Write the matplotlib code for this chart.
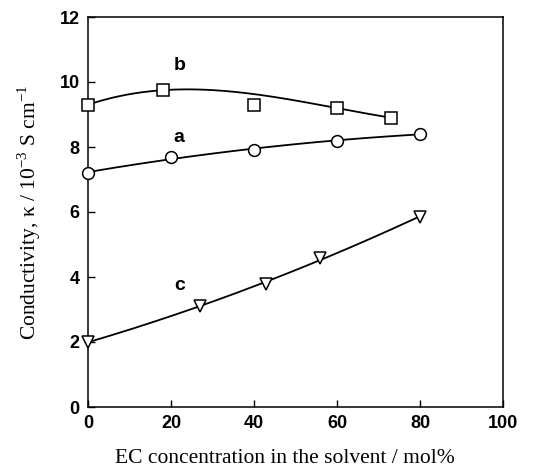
import numpy as np
import matplotlib
matplotlib.use('Agg')
import matplotlib.pyplot as plt

# measured points (EC mol%, conductivity / 1e-3 S cm-1)
x_a = [0, 20, 40, 60, 80]
y_a = [7.2, 7.7, 7.9, 8.2, 8.4]

x_b = [0, 18, 40, 60, 73]
y_b = [9.3, 9.75, 9.3, 9.2, 8.9]

x_c = [0, 27, 43, 56, 80]
y_c = [2.0, 3.1, 3.8, 4.6, 5.85]

curve_labels = ['a', 'b', 'c']
label_x = [22, 22, 22]
label_y = [8.3, 10.5, 3.75]

xticks = [0, 20, 40, 60, 80, 100]
yticks = [0, 2, 4, 6, 8, 10, 12]

fig = plt.figure(figsize=(5.35, 4.7), dpi=100)
ax = fig.add_axes([88 / 535, 1 - 407 / 470, 415 / 535, 390 / 470])


def fit_line(x, y, deg, w=None):
    p = np.polyfit(x, y, deg, w=w)
    xs = np.linspace(min(x), max(x), 200)
    return xs, np.polyval(p, xs)


# the point at 40 mol% on curve b sits below the drawn fit
series = [(x_a, y_a, 2, None, 'o', 8.5),
          (x_b, y_b, 3, [1, 1, 0.1, 1, 1], 's', 8),
          (x_c, y_c, 2, None, 'v', 9)]
for x, y, deg, w, mk, ms in series:
    xs, ys = fit_line(x, y, deg, w)
    ax.plot(xs, ys, color='black', lw=1.3, zorder=2)
    ax.plot(x, y, linestyle='none', marker=mk, ms=ms, mfc='white',
            mec='black', mew=1.1, zorder=3, clip_on=False)

for lab, lx, ly in zip(curve_labels, label_x, label_y):
    ax.text(lx, ly, lab, ha='center', va='center', fontsize=14,
            fontweight='bold', family='Liberation Sans')

ax.set_xlim(0, 100)
ax.set_ylim(0, 12)
ax.set_xticks(xticks)
ax.set_yticks(yticks)
ax.tick_params(direction='in', length=5, width=1, pad=6)
for lbl in ax.get_xticklabels() + ax.get_yticklabels():
    lbl.set_fontfamily('Liberation Sans')
    lbl.set_fontweight('bold')
    lbl.set_fontsize(13)
for s in ax.spines.values():
    s.set_linewidth(1.1)

ax.set_xlabel('EC concentration in the solvent / mol%', family='Liberation Serif',
              fontsize=15.5, labelpad=12)
ax.xaxis.label.set_x(0.475)
ax.set_ylabel(r'Conductivity, $\mathregular{\kappa}$ / 10$^{\mathregular{-3}}$ S cm$^{\mathregular{-1}}$',
              family='Liberation Serif', fontsize=15.5, labelpad=12)

fig.savefig('out.png', dpi=100)
